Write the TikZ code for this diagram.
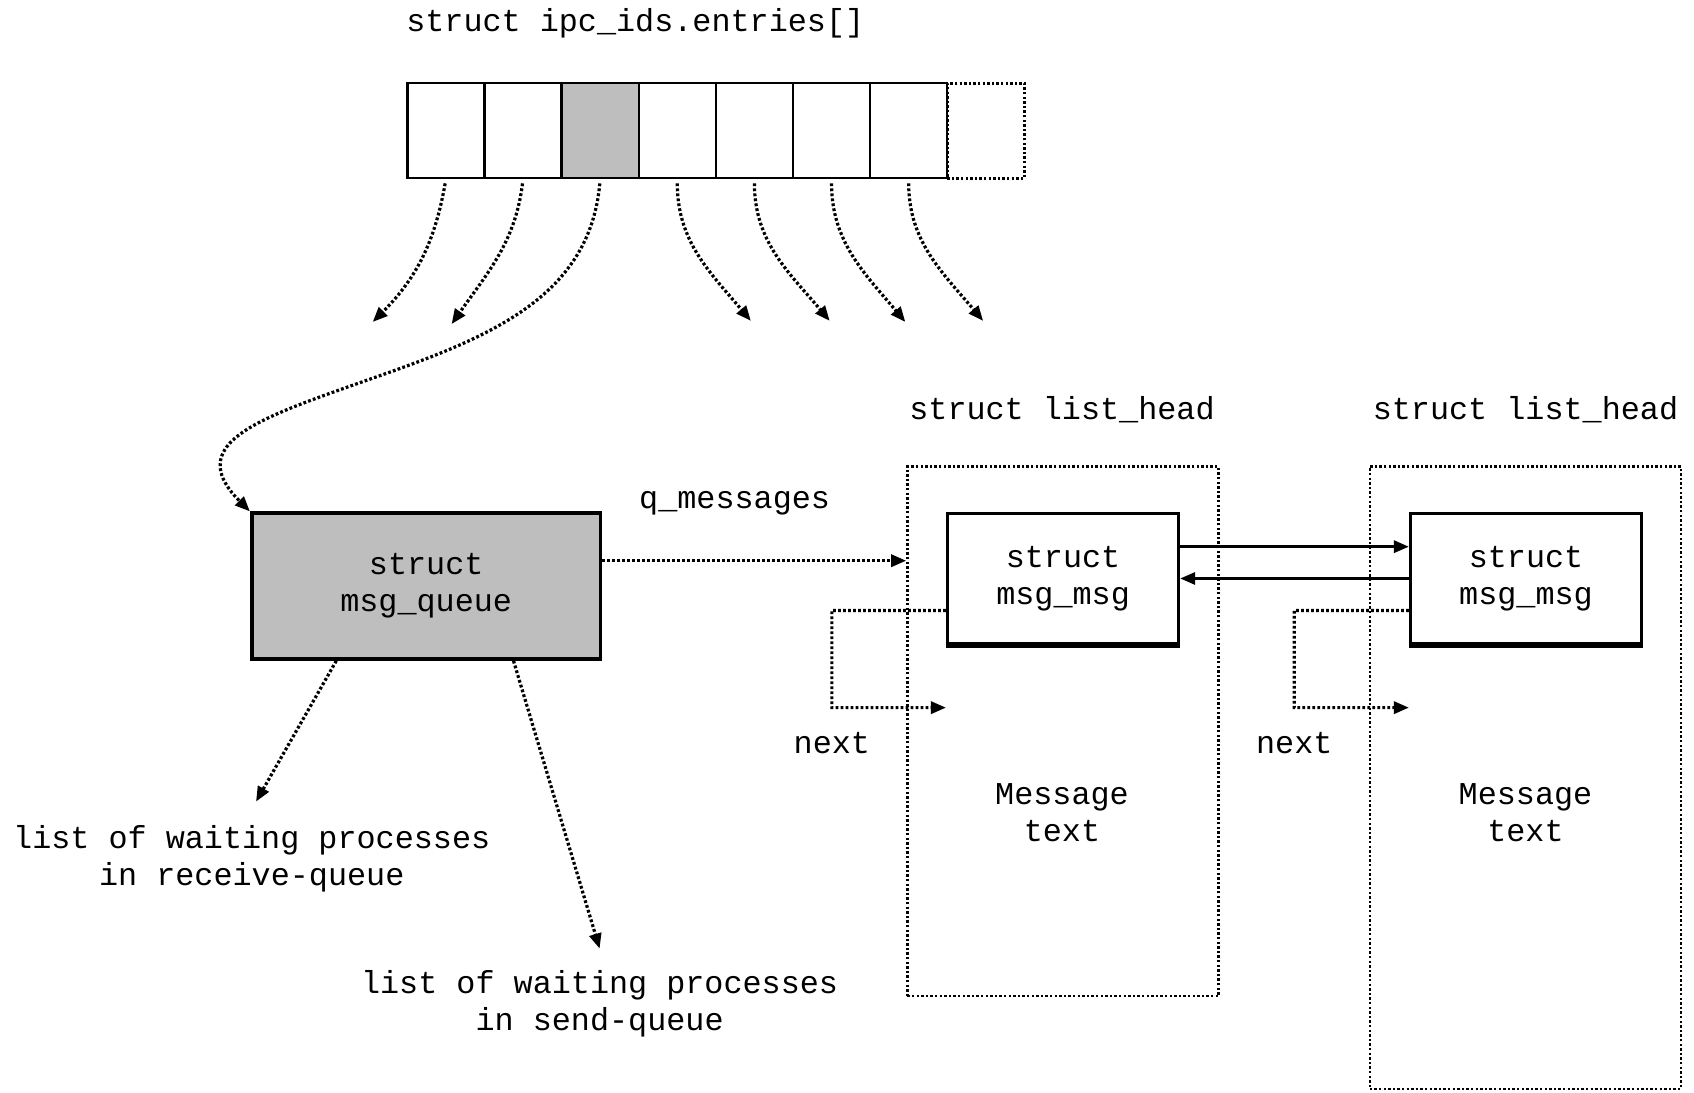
\documentclass[tikz,border=0pt]{standalone}
\usepackage{fontspec}
\newfontfamily\diagmono{Liberation Mono}
\usetikzlibrary{arrows.meta,calc}
\begin{document}
\begin{tikzpicture}[x=0.5402pt,y=-0.5402pt,
  every node/.style={font=\diagmono\fontsize{15.9}{18.4}\selectfont, inner sep=0pt},
  lbl/.style={align=center},
  cellbox/.style={draw, line width=1.2pt, minimum width=38.57pt, minimum height=47.5pt},
  dotline/.style={line width=1.6pt, dash pattern=on 1.4pt off 1.1pt},
  dotarrow/.style={dotline, -{Triangle[length=7.5pt,width=6pt]}},
  solidarrow/.style={line width=1.5pt, -{Triangle[length=7.5pt,width=6pt]}},
  framebox/.style={draw, line width=1.3pt, dash pattern=on 1.2pt off 1.1pt, minimum width=155.6pt},
  msgbox/.style={draw, line width=1.5pt, minimum width=115.6pt, minimum height=65.9pt, align=center},
]
\useasboundingbox (0,0) rectangle (1568,1011);

% array of entries
\node (title) at (588,22) {struct ipc\_ids.entries[]};
\node[cellbox, line width=1.3pt, dash pattern=on 1.2pt off 1.1pt] (c8) at (912.5,121) {};
\node[cellbox] (c1) at (412.7,121) {};
\node[cellbox] (c2) at (484.1,121) {};
\node[cellbox, fill={rgb,255:red,190;green,190;blue,190}] (c3) at (555.5,121) {};
\node[cellbox] (c4) at (626.9,121) {};
\node[cellbox] (c5) at (698.3,121) {};
\node[cellbox] (c6) at (769.7,121) {};
\node[cellbox] (c7) at (841.1,121) {};

\coordinate (e1) at (345,298);
\coordinate (e2) at (418,300);
\coordinate (e4) at (695,297);
\coordinate (e5) at (768,297);
\coordinate (e6) at (838,298);
\coordinate (e7) at (910,297);
\coordinate (k3) at (300,366);

% msg_queue
\node[draw, line width=1.8pt, fill={rgb,255:red,190;green,190;blue,190},
      minimum width=174.5pt, minimum height=72.9pt, align=center] (msgq) at (394.5,542.5)
      {struct\\msg\_queue};

\draw[dotarrow, shorten <=2pt] (c1.south) to[out=-100,in=45] (e1);
\draw[dotarrow, shorten <=2pt] (c2.south) to[out=-97,in=55] (e2);
\draw[dotarrow, shorten <=2pt] (c3.south) to[out=-95,in=20] (k3)
      to[out=200,in=135,looseness=1.6] (msgq.north west);
\draw[dotarrow, shorten <=2pt] (c4.south) to[out=-90,in=130] (e4);
\draw[dotarrow, shorten <=2pt] (c5.south) to[out=-90,in=130] (e5);
\draw[dotarrow, shorten <=2pt] (c6.south) to[out=-90,in=130] (e6);
\draw[dotarrow, shorten <=2pt] (c7.south) to[out=-90,in=130] (e7);

% list heads
\node (lht1) at (983,379) {struct list\_head};
\node (lht2) at (1412,379) {struct list\_head};
\node[framebox, minimum height=264.7pt] (lh1) at (984,677) {};
\node[framebox, minimum height=311.2pt] (lh2) at (1412,720) {};

% msg_msg boxes
\node[msgbox] (mm1) at (984,536) {struct\\msg\_msg};
\node[msgbox] (mm2) at (1412.5,536) {struct\\msg\_msg};
\draw[line width=2.8pt] ([yshift=0.7pt]mm1.south west) -- ([yshift=0.7pt]mm1.south east);
\draw[line width=2.8pt] ([yshift=0.7pt]mm2.south west) -- ([yshift=0.7pt]mm2.south east);

% q_messages
\node (qlbl) at (680,466) {q\_messages};
\coordinate (qs) at ([yshift=12.7pt]msgq.east);
\draw[dotarrow] (qs) -- (qs -| lh1.west);

% links between msg_msg
\draw[solidarrow] ([yshift=16.2pt]mm1.east) -- ([yshift=16.2pt]mm2.west);
\draw[solidarrow] ([yshift=0.3pt]mm2.west) -- ([yshift=0.3pt]mm1.east);

% next loops
\coordinate (ynext) at (0,655);
\coordinate (n1s) at ([yshift=-15.7pt]mm1.west);
\coordinate (n2s) at ([yshift=-15.7pt]mm2.west);
\coordinate (n1c) at (770,565);
\coordinate (n2c) at (1198,565);
\draw[dotarrow] (n1s) -- (n1c) |- (mm1.west |- ynext);
\draw[dotarrow] (n2s) -- (n2c) |- (mm2.west |- ynext);
\node (next1) at (770,688) {next};
\node (next2) at (1198,688) {next};

% message text
\node[lbl] (mt1) at (983,752) {Message\\text};
\node[lbl] (mt2) at (1412,752) {Message\\text};

% waiting lists
\node[lbl] (recv) at (233,795) {list of waiting processes\\in receive-queue};
\node[lbl] (send) at (555,929) {list of waiting processes\\in send-queue};
\coordinate (r1) at (237,742);
\coordinate (s1) at (555,878);
\draw[dotarrow] ([xshift=43.2pt]msgq.south west) -- (r1);
\draw[dotarrow] ([xshift=131.8pt]msgq.south west) -- (s1);
\end{tikzpicture}
\end{document}
